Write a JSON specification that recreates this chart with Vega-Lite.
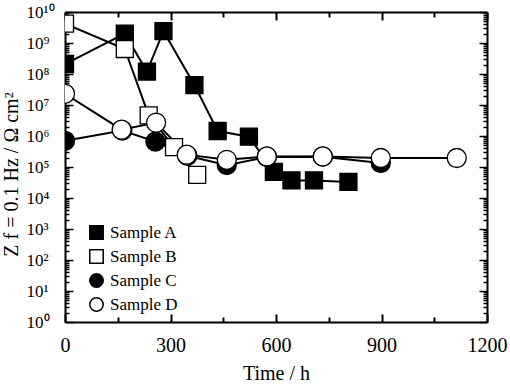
{
  "$schema": "https://vega.github.io/schema/vega-lite/v6.json",
  "width": 422,
  "height": 310,
  "autosize": {"type": "none"},
  "padding": {"left": 65, "top": 12, "right": 23, "bottom": 69},
  "config": {
    "view": {"stroke": null},
    "font": "Liberation Serif",
    "axis": {
      "domainColor": "black",
      "domainWidth": 2,
      "tickColor": "black",
      "grid": false,
      "labelColor": "black",
      "titleColor": "black",
      "labelFont": "Liberation Serif",
      "titleFont": "Liberation Serif",
      "titleFontWeight": "normal",
      "labelOverlap": false,
      "labelFlush": false,
      "labelBound": false
    }
  },
  "data": {
    "values": [
      {"sample": "Sample A", "time": 0, "z": 2.1e8},
      {"sample": "Sample A", "time": 170, "z": 2.0e9},
      {"sample": "Sample A", "time": 233, "z": 1.2e8},
      {"sample": "Sample A", "time": 280, "z": 2.4e9},
      {"sample": "Sample A", "time": 368, "z": 4.4e7},
      {"sample": "Sample A", "time": 434, "z": 1.45e6},
      {"sample": "Sample A", "time": 523, "z": 9.5e5},
      {"sample": "Sample A", "time": 594, "z": 7.0e4},
      {"sample": "Sample A", "time": 644, "z": 3.7e4},
      {"sample": "Sample A", "time": 708, "z": 3.7e4},
      {"sample": "Sample A", "time": 806, "z": 3.3e4},
      {"sample": "Sample B", "time": 0, "z": 4.2e9},
      {"sample": "Sample B", "time": 170, "z": 6.4e8},
      {"sample": "Sample B", "time": 238, "z": 4.6e6},
      {"sample": "Sample B", "time": 310, "z": 4.4e5},
      {"sample": "Sample B", "time": 376, "z": 5.6e4},
      {"sample": "Sample C", "time": 0, "z": 7.0e5},
      {"sample": "Sample C", "time": 163, "z": 1.5e6},
      {"sample": "Sample C", "time": 257, "z": 6.6e5},
      {"sample": "Sample C", "time": 348, "z": 2.3e5},
      {"sample": "Sample C", "time": 460, "z": 1.15e5},
      {"sample": "Sample C", "time": 574, "z": 2.1e5},
      {"sample": "Sample C", "time": 733, "z": 2.15e5},
      {"sample": "Sample C", "time": 898, "z": 1.35e5},
      {"sample": "Sample D", "time": 0, "z": 2.3e7},
      {"sample": "Sample D", "time": 161, "z": 1.6e6},
      {"sample": "Sample D", "time": 259, "z": 2.7e6},
      {"sample": "Sample D", "time": 346, "z": 2.5e5},
      {"sample": "Sample D", "time": 460, "z": 1.7e5},
      {"sample": "Sample D", "time": 574, "z": 2.2e5},
      {"sample": "Sample D", "time": 733, "z": 2.2e5},
      {"sample": "Sample D", "time": 898, "z": 1.95e5},
      {"sample": "Sample D", "time": 1114, "z": 1.95e5}
    ]
  },
  "resolve": {"axis": {"x": "independent", "y": "independent"}},
  "layer": [
    {
      "mark": {"type": "line", "color": "black", "strokeWidth": 2, "clip": true},
      "encoding": {
        "x": {
          "field": "time", "type": "quantitative",
          "scale": {"domain": [0, 1200], "nice": false, "zero": false},
          "axis": {
            "orient": "bottom",
            "title": "Time / h",
            "titleFont": "Liberation Serif",
            "titleFontSize": 20,
            "titleBaseline": "alphabetic",
            "titleY": 57,
            "values": [0, 150, 300, 450, 600, 750, 900, 1050, 1200],
            "format": "d",
            "labelExpr": "datum.value % 300 == 0 ? datum.label : ''",
            "labelFont": "Liberation Serif",
            "labelFontSize": 20,
            "labelBaseline": "alphabetic",
            "labelPadding": 37,
            "tickWidth": 2,
            "tickSize": {"condition": {"test": "datum.value % 300 == 0", "value": -8}, "value": -5}
          }
        },
        "y": {
          "field": "z", "type": "quantitative",
          "scale": {"type": "log", "domain": [1, 1e10], "nice": false},
          "axis": {
            "orient": "left",
            "title": "Z f = 0.1 Hz / Ω cm²",
            "titleFont": "Liberation Serif",
            "titleFontSize": 20,
            "titleAngle": -90,
            "titleAlign": "center",
            "titleBaseline": "alphabetic",
            "titleX": -48,
            "titleY": 162,
            "values": [1,2,3,4,5,6,7,8,9,10,20,30,40,50,60,70,80,90,100,200,300,400,500,600,700,800,900,1e3,2e3,3e3,4e3,5e3,6e3,7e3,8e3,9e3,1e4,2e4,3e4,4e4,5e4,6e4,7e4,8e4,9e4,1e5,2e5,3e5,4e5,5e5,6e5,7e5,8e5,9e5,1e6,2e6,3e6,4e6,5e6,6e6,7e6,8e6,9e6,1e7,2e7,3e7,4e7,5e7,6e7,7e7,8e7,9e7,1e8,2e8,3e8,4e8,5e8,6e8,7e8,8e8,9e8,1e9,2e9,3e9,4e9,5e9,6e9,7e9,8e9,9e9,1e10],
            "labelExpr": "abs(log(datum.value)/LN10 - round(log(datum.value)/LN10)) < 0.001 ? '10' + ['⁰','¹','²','³','⁴','⁵','⁶','⁷','⁸','⁹','¹⁰'][round(log(datum.value)/LN10)] : ''",
            "labelFont": "Liberation Serif",
            "labelFontSize": 17,
            "labelAlign": "left",
            "labelBaseline": "middle",
            "labelPadding": 47,
            "tickWidth": 1.5,
            "tickSize": {"condition": {"test": "abs(log(datum.value)/LN10 - round(log(datum.value)/LN10)) < 0.001", "value": -8}, "value": -4}
          }
        },
        "detail": {"field": "sample"},
        "order": {"field": "time"}
      }
    },
    {
      "transform": [{"filter": "datum.sample == 'Sample A' || datum.sample == 'Sample B'"}],
      "mark": {"type": "point", "stroke": "black", "strokeWidth": 1.3, "opacity": 1, "size": 289, "clip": true},
      "encoding": {
        "x": {
          "field": "time", "type": "quantitative",
          "axis": {
            "orient": "top", "title": null, "labels": false,
            "values": [0, 150, 300, 450, 600, 750, 900, 1050, 1200],
            "tickWidth": 2,
            "tickSize": {"condition": {"test": "datum.value % 300 == 0", "value": -8}, "value": -5}
          }
        },
        "y": {
          "field": "z", "type": "quantitative",
          "axis": {
            "orient": "right", "title": null, "labels": false,
            "values": [1,2,3,4,5,6,7,8,9,10,20,30,40,50,60,70,80,90,100,200,300,400,500,600,700,800,900,1e3,2e3,3e3,4e3,5e3,6e3,7e3,8e3,9e3,1e4,2e4,3e4,4e4,5e4,6e4,7e4,8e4,9e4,1e5,2e5,3e5,4e5,5e5,6e5,7e5,8e5,9e5,1e6,2e6,3e6,4e6,5e6,6e6,7e6,8e6,9e6,1e7,2e7,3e7,4e7,5e7,6e7,7e7,8e7,9e7,1e8,2e8,3e8,4e8,5e8,6e8,7e8,8e8,9e8,1e9,2e9,3e9,4e9,5e9,6e9,7e9,8e9,9e9,1e10],
            "tickWidth": 1.5,
            "tickSize": {"condition": {"test": "abs(log(datum.value)/LN10 - round(log(datum.value)/LN10)) < 0.001", "value": -8}, "value": -4}
          }
        },
        "fill": {
          "field": "sample", "type": "nominal",
          "scale": {"domain": ["Sample A", "Sample B", "Sample C", "Sample D"], "range": ["black", "white", "black", "white"]},
          "legend": {
            "title": null, "orient": "none", "legendX": 23, "legendY": 212,
            "padding": 0, "symbolSize": 180,
            "labelFont": "Liberation Serif", "labelFontSize": 17, "labelColor": "black",
            "labelOffset": 5, "rowPadding": 3,
            "encode": {"symbols": {"update": {"stroke": {"value": "black"}, "strokeWidth": {"value": 1}}}}
          }
        },
        "shape": {
          "field": "sample", "type": "nominal",
          "scale": {"domain": ["Sample A", "Sample B", "Sample C", "Sample D"], "range": ["square", "square", "circle", "circle"]}
        }
      }
    },
    {
      "transform": [{"filter": "datum.sample == 'Sample C' || datum.sample == 'Sample D'"}],
      "mark": {"type": "point", "stroke": "black", "strokeWidth": 1.3, "opacity": 1, "size": 361, "clip": true},
      "encoding": {
        "x": {"field": "time", "type": "quantitative", "axis": null},
        "y": {"field": "z", "type": "quantitative", "axis": null},
        "fill": {"field": "sample", "type": "nominal"},
        "shape": {"field": "sample", "type": "nominal"}
      }
    }
  ]
}
